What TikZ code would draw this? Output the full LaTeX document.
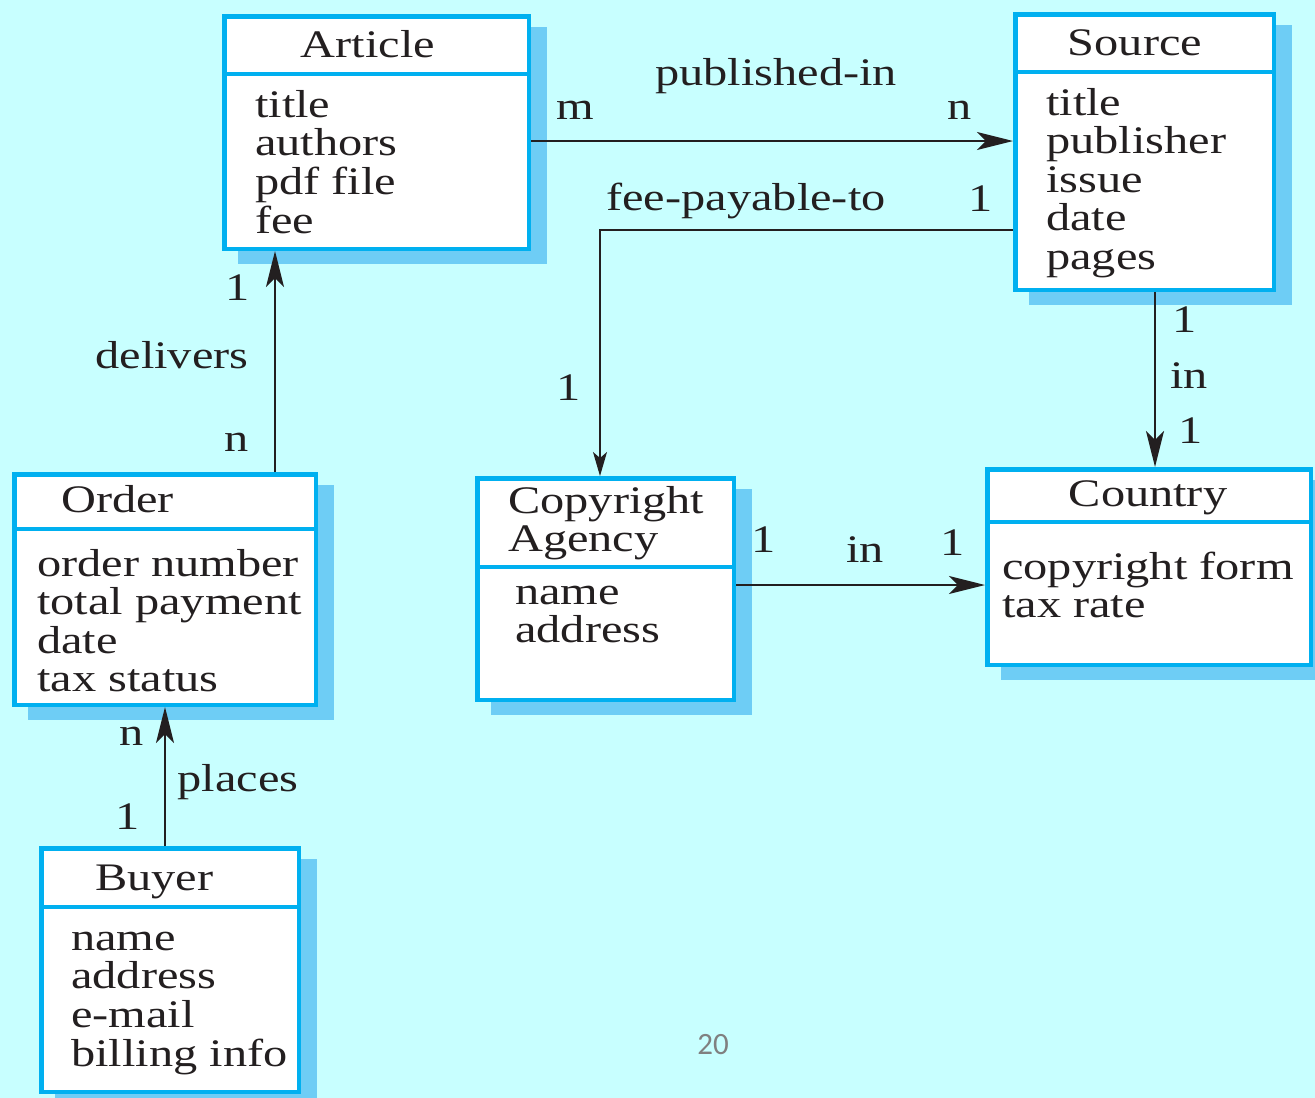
\documentclass[tikz,border=0pt]{standalone}
\usepackage{fontspec}
\setmainfont{Liberation Serif}[FakeStretch=1.24]
\newfontfamily\pagenumfont{Carlito}
\usetikzlibrary{arrows.meta}

\definecolor{bgcyan}{RGB}{200,255,255}
\definecolor{erblue}{RGB}{0,176,240}
\definecolor{ershade}{RGB}{110,205,245}
\definecolor{ink}{RGB}{35,31,32}
\definecolor{pagegray}{RGB}{128,128,128}

\tikzset{
  erbox/.style={draw=erblue, fill=white, line width=4.5pt, inner sep=0pt},
  erline/.style={draw=erblue, line width=4.5pt},
  ershadow/.style={fill=ershade},
  txt/.style={inner sep=0pt, text=ink, font=\fontsize{39}{38.5}\selectfont},
  conn/.style={draw=ink, line width=2.4pt,
    -{Stealth[length=36pt, width=18pt, inset=9pt]}},
  thinconn/.style={draw=ink, line width=1.2pt,
    -{Stealth[length=24pt, width=14pt, inset=6pt]}},
}

% entity box: name, x1, y1, x2, y2, y of the divider
\newcommand\erentity[6]{%
  \fill[ershadow] (#2+16,#3+13) rectangle (#4+16,#5+13);
  \node[erbox, minimum width={(#4-#2-4.5)*1pt}, minimum height={(#5-#3-4.5)*1pt}]
    (#1) at ({(#2+#4)/2},{(#3+#5)/2}) {};
  \draw[erline] (#2+2,#6) -- (#4-2,#6);
}
\newcommand\attrs[1]{\begin{tabular}[t]{@{}l@{}}#1\end{tabular}}

\begin{document}
\begin{tikzpicture}[x=1pt, y=-1pt]
  \fill[bgcyan] (0,0) rectangle (1315,1098);
  \useasboundingbox (0,0) rectangle (1315,1098);
  \clip (0,0) rectangle (1315,1098);

  % entities
  \erentity{article}{222}{14}{531}{251}{74}
  \erentity{source}{1013}{12}{1276}{292}{72}
  \erentity{order}{12}{472}{318}{707}{529}
  \erentity{agency}{475}{476}{736}{702}{567}
  \erentity{country}{985}{467}{1313}{667}{522}
  \erentity{buyer}{39}{846}{301}{1094}{907}

  % entity titles
  \node[txt, anchor=base] (articleT) at (368,57) {Article};
  \node[txt, anchor=base] (sourceT) at (1135,55) {Source};
  \node[txt, anchor=base west] (orderT) at (61,512) {Order};
  \node[txt, anchor=base west] (agencyT) at (508,513) {\attrs{Copyright\\Agency}};
  \node[txt, anchor=base] (countryT) at (1148,506) {Country};
  \node[txt, anchor=base west] (buyerT) at (95,890) {Buyer};

  % attributes
  \node[txt, anchor=base west] (articleA) at (255,117) {\attrs{title\\authors\\pdf file\\fee}};
  \node[txt, anchor=base west] (sourceA) at (1046,115) {\attrs{title\\publisher\\issue\\date\\pages}};
  \node[txt, anchor=base west] (orderA) at (37,576) {\attrs{order number\\total payment\\date\\tax status}};
  \node[txt, anchor=base west] (agencyA) at (515,604) {\attrs{name\\address}};
  \node[txt, anchor=base west] (countryA) at (1002,579) {\attrs{copyright form\\tax rate}};
  \node[txt, anchor=base west] (buyerA) at (71,950) {\attrs{name\\address\\e-mail\\billing info}};

  % relationships
  \draw[conn] (article.east |- 0,141) -- (source.west |- 0,141);
  \draw[thinconn] (source.west |- 0,230) -| (600,0 |- agency.north);
  \draw[conn] (1155,0 |- source.south) -- (1155,0 |- country.north);
  \draw[conn] (agency.east |- 0,585) -- (country.west |- 0,585);
  \draw[conn] (275,0 |- order.north) -- (275,0 |- article.south);
  \draw[conn] (165,0 |- buyer.north) -- (165,0 |- order.south);

  % relationship names and cardinalities
  \node[txt, anchor=base] (pubL) at (776,85) {published-in};
  \node[txt, anchor=base] (pubM) at (575,119) {m};
  \node[txt, anchor=base] (pubN) at (960,119) {n};
  \node[txt, anchor=base] (feeL) at (746,210) {fee-payable-to};
  \node[txt, anchor=base] (feeA) at (981,211) {1};
  \node[txt, anchor=base] (feeB) at (569,400) {1};
  \node[txt, anchor=base] (inA1) at (1185,332) {1};
  \node[txt, anchor=base] (inAL) at (1189,388) {in};
  \node[txt, anchor=base] (inA2) at (1191,443) {1};
  \node[txt, anchor=base] (inB1) at (764,552) {1};
  \node[txt, anchor=base] (inBL) at (865,562) {in};
  \node[txt, anchor=base] (inB2) at (953,555) {1};
  \node[txt, anchor=base] (delA) at (238,300) {1};
  \node[txt, anchor=base] (delL) at (172,368) {delivers};
  \node[txt, anchor=base] (delB) at (237,451) {n};
  \node[txt, anchor=base] (plaA) at (132,745) {n};
  \node[txt, anchor=base] (plaL) at (238,791) {places};
  \node[txt, anchor=base] (plaB) at (128,829) {1};

  % slide number
  \node[inner sep=0pt, text=pagegray, font=\pagenumfont\fontsize{31}{31}\selectfont]
    (pagenum) at (713,1045) {20};
\end{tikzpicture}
\end{document}
